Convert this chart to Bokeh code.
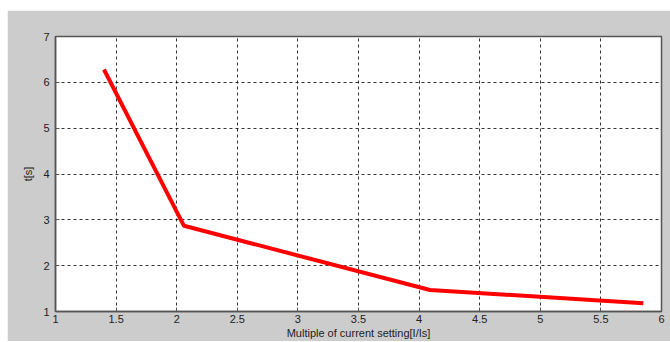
from bokeh.plotting import figure
from bokeh.models import Range1d, FixedTicker, Spacer
from bokeh.layouts import row, column
from bokeh.embed import file_html
from bokeh.resources import INLINE

# Data
multiple = [1.40, 2.06, 4.09, 5.85]
time_s = [6.28, 2.87, 1.47, 1.18]
x_ticks = [1, 1.5, 2, 2.5, 3, 3.5, 4, 4.5, 5, 5.5, 6]
y_ticks = [1, 2, 3, 4, 5, 6, 7]

FONT = "Liberation Sans"
GRAY = "#cccccc"
AXC = "#555555"

p = figure(output_backend="svg", toolbar_location=None,
           frame_width=606, frame_height=275,
           x_range=Range1d(1, 6), y_range=Range1d(1, 7),
           min_border_left=48, min_border_right=9,
           min_border_top=26, min_border_bottom=30,
           border_fill_color=GRAY, background_fill_color="white",
           outline_line_color=AXC, outline_line_width=1.5)

p.line(multiple, time_s, line_color="#ff0000", line_width=4)

for ax in (p.xaxis[0], p.yaxis[0]):
    ax.axis_line_color = AXC
    ax.axis_line_width = 1.5
    ax.major_tick_in = 4
    ax.major_tick_out = 0
    ax.major_tick_line_color = AXC
    ax.minor_tick_line_color = None
    ax.major_label_text_font = FONT
    ax.major_label_text_font_size = "11px"
    ax.major_label_text_color = "#222222"
    ax.axis_label_text_font = FONT
    ax.axis_label_text_font_size = "11px"
    ax.axis_label_text_font_style = "normal"
    ax.axis_label_text_color = "#222222"

p.xaxis[0].ticker = FixedTicker(ticks=x_ticks)
p.yaxis[0].ticker = FixedTicker(ticks=y_ticks)
p.xaxis[0].major_label_overrides = {1: "1", 2: "2", 3: "3", 4: "4", 5: "5", 6: "6"}
p.xaxis[0].axis_label = "Multiple of current setting[I/Is]"
p.yaxis[0].axis_label = "t[s]"
p.xaxis[0].major_label_standoff = 3
p.yaxis[0].major_label_standoff = 6
p.xaxis[0].axis_label_standoff = 1
p.yaxis[0].axis_label_standoff = 6

p.xgrid.ticker = FixedTicker(ticks=x_ticks)
p.ygrid.ticker = FixedTicker(ticks=y_ticks)
for g in (p.xgrid[0], p.ygrid[0]):
    g.grid_line_color = "#000000"
    g.grid_line_dash = "3 3"
    g.grid_line_width = 1
    g.grid_line_alpha = 0.8

layout = row(Spacer(width=7, height=342),
             column(Spacer(width=663, height=10), p))

out = file_html(layout, INLINE)
open("out.html", "w").write(out)
